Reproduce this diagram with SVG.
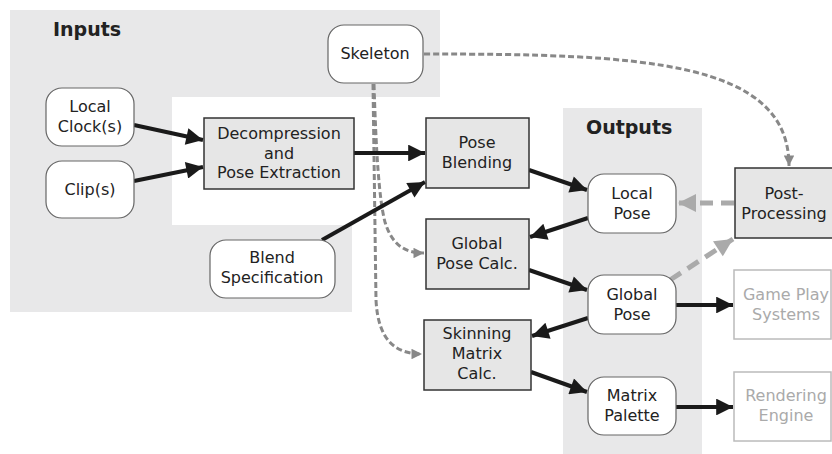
<svg xmlns="http://www.w3.org/2000/svg" width="832" height="454" viewBox="0 0 832 454">
<defs>
<style>
text{font-family:"DejaVu Sans",Verdana,sans-serif;font-size:16px;fill:#222;text-anchor:middle}
.title{font-weight:bold;font-size:19px;text-anchor:start}
.rnd{fill:#fff;stroke:#666;stroke-width:1.2}
.box{fill:#e6e6e6;stroke:#333;stroke-width:1.5}
.ext{fill:#fff;stroke:#bbb;stroke-width:1.5}
.ext-t{fill:#aaa}
.bg{fill:#e8e8e9}
.a{stroke:#1a1a1a;stroke-width:4;fill:none;marker-end:url(#ah)}
.d{stroke:#888;stroke-width:3;fill:none;stroke-dasharray:6 3;marker-end:url(#dh)}
.g{stroke:#aaa;stroke-width:5;fill:none;stroke-dasharray:13 8;marker-end:url(#gh)}
</style>
<marker id="ah" viewBox="0 0 10 10" refX="10" refY="5" markerWidth="5.5" markerHeight="4.2" orient="auto" markerUnits="strokeWidth"><path d="M0,0 L10,5 L0,10 z" fill="#1a1a1a"/></marker>
<marker id="dh" viewBox="0 0 10 10" refX="10" refY="5" markerWidth="4" markerHeight="3.5" orient="auto" markerUnits="strokeWidth"><path d="M0,0 L10,5 L0,10 z" fill="#888"/></marker>
<marker id="gh" viewBox="0 0 10 10" refX="10" refY="5" markerWidth="4" markerHeight="3.6" orient="auto" markerUnits="strokeWidth"><path d="M0,0 L10,5 L0,10 z" fill="#aaa"/></marker>
</defs>
<rect width="832" height="454" fill="#fff"/>
<g id="inputs-bg">
<path class="bg" d="M10,10 H440 V97 H172 V225 H352 V312 H10 Z"/>
<text class="title" x="53" y="36">Inputs</text>
</g>
<g id="outputs-bg">
<rect class="bg" x="563" y="108" width="139" height="346"/>
<text class="title" x="586" y="134">Outputs</text>
</g>
<g id="connectors">
<path class="d" d="M424,54 C640,54 789,60 789,166"/>
<path class="d" d="M374,84 C376,150 379,200 385,222 C392,245 405,253 424,253"/>
<path class="d" d="M373,84 L376,300 C378,340 395,354 422,354"/>
<path class="a" d="M134,125 L203,140"/>
<path class="a" d="M134,181 L203,167"/>
<path class="a" d="M354,153 L425,153"/>
<path class="a" d="M322,240 L425,182"/>
<path class="a" d="M529,170 L587,190"/>
<path class="a" d="M588,218 L530,237"/>
<path class="a" d="M529,270 L587,290"/>
<path class="a" d="M588,318 L532,336"/>
<path class="a" d="M531,372 L587,392"/>
<path class="a" d="M676,305 L733,305"/>
<path class="a" d="M676,407 L733,407"/>
<path class="g" d="M734,203 L678,203"/>
<path class="g" d="M670,280 L733,239"/>
</g>
<g id="skeleton"><rect class="rnd" x="328" y="25" width="95" height="58" rx="16"/><text x="375" y="59">Skeleton</text></g>
<g id="local-clock"><rect class="rnd" x="46" y="88" width="88" height="58" rx="16"/><text x="90" y="112">Local</text><text x="90" y="132">Clock(s)</text></g>
<g id="clip"><rect class="rnd" x="46" y="161" width="88" height="57" rx="16"/><text x="90" y="195">Clip(s)</text></g>
<g id="decompression"><rect class="box" x="204" y="118" width="150" height="71"/><text x="279" y="139">Decompression</text><text x="279" y="159">and</text><text x="279" y="178">Pose Extraction</text></g>
<g id="pose-blending"><rect class="box" x="426" y="118" width="103" height="70"/><text x="477" y="148">Pose</text><text x="477" y="168">Blending</text></g>
<g id="blend-spec"><rect class="rnd" x="210" y="240" width="125" height="58" rx="16"/><text x="272" y="263">Blend</text><text x="272" y="283">Specification</text></g>
<g id="global-pose-calc"><rect class="box" x="426" y="219" width="103" height="70"/><text x="477" y="249">Global</text><text x="477" y="269">Pose Calc.</text></g>
<g id="skinning"><rect class="box" x="424" y="320" width="107" height="70"/><text x="477" y="339">Skinning</text><text x="477" y="359">Matrix</text><text x="477" y="379">Calc.</text></g>
<g id="local-pose"><rect class="rnd" x="588" y="174" width="88" height="59" rx="16"/><text x="632" y="199">Local</text><text x="632" y="219">Pose</text></g>
<g id="global-pose"><rect class="rnd" x="588" y="275" width="88" height="59" rx="16"/><text x="632" y="300">Global</text><text x="632" y="320">Pose</text></g>
<g id="matrix-palette"><rect class="rnd" x="588" y="377" width="88" height="58" rx="16"/><text x="632" y="401">Matrix</text><text x="632" y="421">Palette</text></g>
<g id="post-processing"><rect class="box" x="735" y="168" width="100" height="70"/><text x="784" y="199">Post-</text><text x="784" y="219">Processing</text></g>
<g id="game-play"><rect class="ext" x="734" y="270" width="97" height="69"/><text class="ext-t" x="786" y="300">Game Play</text><text class="ext-t" x="786" y="320">Systems</text></g>
<g id="rendering"><rect class="ext" x="734" y="372" width="97" height="69"/><text class="ext-t" x="786" y="401">Rendering</text><text class="ext-t" x="786" y="421">Engine</text></g>
</svg>
